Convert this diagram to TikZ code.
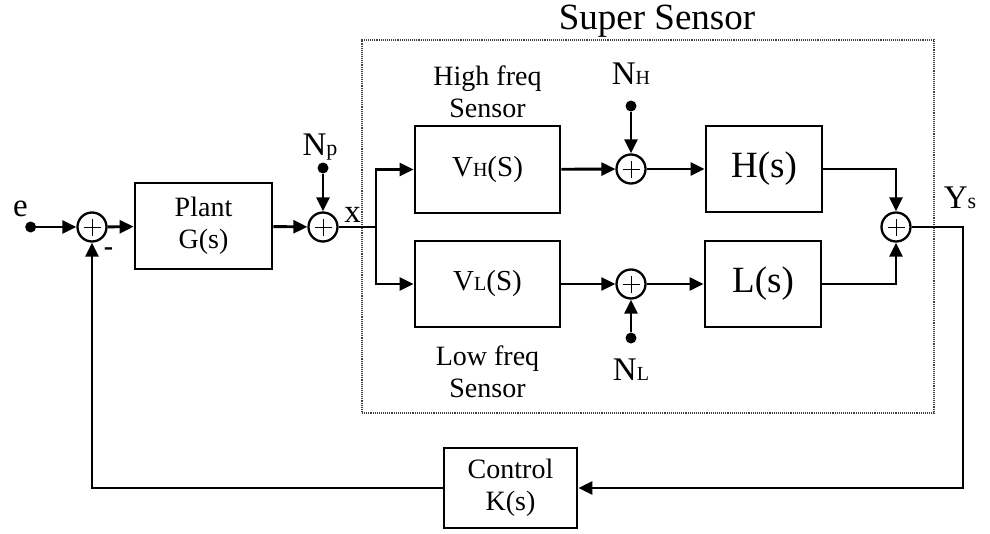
\documentclass[tikz,border=0pt]{standalone}
\usepackage{fontspec}
\setmainfont{Liberation Serif}
\usetikzlibrary{positioning,arrows.meta,calc}

\newcommand\sub[1]{{\fontsize{20pt}{20pt}\selectfont #1}}

\begin{document}
\begin{tikzpicture}[
  x=1pt, y=-1pt,
  font=\fontsize{28pt}{32pt}\selectfont,
  box/.style={
    rectangle,
    draw=black,
    line width=2.8pt,
    inner sep=0pt,
    align=center,
    fill=white,
  },
  sumnode/.style={
    circle,
    draw=black,
    line width=2.3pt,
    minimum size=29pt,
    inner sep=0pt,
    fill=white,
    path picture={
      \draw[line width=1pt]
        ([xshift=-8.5pt]path picture bounding box.center) -- ([xshift=8.5pt]path picture bounding box.center)
        ([yshift=-8.5pt]path picture bounding box.center) -- ([yshift=8.5pt]path picture bounding box.center);
    },
  },
  dot/.style={circle, fill=black, inner sep=0pt, minimum size=11pt},
  lbl/.style={inner sep=0pt, align=center},
  biglbl/.style={inner sep=0pt, font=\fontsize{33pt}{36pt}\selectfont},
  sig/.style={-{Triangle[length=14pt,width=13pt]}, line width=2.9pt, draw=black},
  wire/.style={line width=2.9pt, draw=black},
]
  \useasboundingbox (0,0) rectangle (990,533);

  % --- Super sensor frame ---
  \node[draw=black!75, densely dotted, line width=1.1pt, minimum width=572pt, minimum height=373pt, inner sep=0pt] (ss) at (648,226.5) {};
  \node[lbl, anchor=base, font=\fontsize{37pt}{40pt}\selectfont] (sslbl) at (657,29) {Super Sensor};

  % --- Left: plant loop ---
  \node[sumnode] (sum1) at (92,227) {};
  \node[dot, left=40pt of sum1] (e) {};
  \node[biglbl, anchor=base] (elbl) at (20.5,216) {e};
  \node[lbl, font=\bfseries\fontsize{28pt}{30pt}\selectfont] (minus) at (108.5,252) {-};

  \node[box, minimum width=137pt, minimum height=86pt] (plant) at (203.5,226) {Plant\\G(s)};
  \node[sumnode] (sum2) at (323,227) {};
  \node[dot] (npdot) at (323,168) {};
  \node[biglbl, anchor=base] (nplbl) at (320,155) {N{\fontsize{22pt}{22pt}\selectfont p}};
  \node[biglbl, anchor=base] (xlbl) at (352.5,222) {x};
  \coordinate (br) at (376,227);

  \draw[sig] (e) -- (sum1);
  \draw[sig] (sum1) -- (plant);
  \draw[sig] (plant) -- (sum2);
  \draw[sig] (npdot) -- (sum2);
  \draw[wire] (sum2.east) -- (br);

  % --- High frequency branch ---
  \node[box, minimum width=145pt, minimum height=87pt, font=\fontsize{29pt}{32pt}\selectfont] (vh) at (487.5,169.5) {V\sub{H}(S)};
  \node[lbl, above=7pt of vh] (hflbl) {High freq\\Sensor};
  \node[sumnode] (sumh) at (631,169) {};
  \node[dot] (nhdot) at (631,106) {};
  \node[biglbl, anchor=base] (nhlbl) at (631,84) {N\sub{H}};
  \node[box, minimum width=116pt, minimum height=86pt, font=\fontsize{37pt}{40pt}\selectfont] (hbox) at (764,169) {H(s)};

  % --- Low frequency branch ---
  \node[box, minimum width=145pt, minimum height=86pt, font=\fontsize{29pt}{32pt}\selectfont] (vl) at (487.5,284) {V\sub{L}(S)};
  \node[lbl, below=17pt of vl] (lflbl) {Low freq\\Sensor};
  \node[sumnode] (suml) at (631,284) {};
  \node[dot] (nldot) at (631,338) {};
  \node[biglbl, anchor=base] (nllbl) at (631,380) {N\sub{L}};
  \node[box, minimum width=116pt, minimum height=86pt, font=\fontsize{37pt}{40pt}\selectfont] (lbox) at (763,284) {L(s)};

  \draw[sig] (br) |- (vh.west);
  \draw[sig] (br) |- (vl.west);
  \foreach \a/\b in {vh/sumh, nhdot/sumh, sumh/hbox, vl/suml, nldot/suml, suml/lbox} {
    \draw[sig] (\a) -- (\b);
  }

  % --- Output sum and feedback ---
  \node[sumnode] (sumy) at (896,227) {};
  \node[biglbl, anchor=base] (yslbl) at (960,208) {Y{\fontsize{22pt}{22pt}\selectfont s}};
  \draw[sig] (hbox.east) -| (sumy.north);
  \draw[sig] (lbox.east) -| (sumy.south);

  \node[box, minimum width=133pt, minimum height=80pt] (ctrl) at (510.5,488) {Control\\K(s)};
  \coordinate (yc) at (963,227);
  \draw[sig] (sumy.east) -- (yc) |- (ctrl.east);
  \draw[sig] (ctrl.west) -| (sum1.south);

\end{tikzpicture}
\end{document}
